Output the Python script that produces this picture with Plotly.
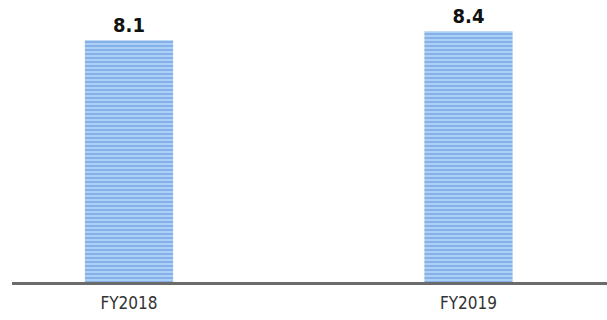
import plotly.graph_objects as go

categories = ["FY2018", "FY2019"]
values = [8.1, 8.4]
labels = ["8.1", "8.4"]

FONT = "DejaVu Sans Condensed, Roboto Condensed, Roboto, sans-serif"

fig = go.Figure(go.Bar(
    x=categories, y=values, text=labels, textposition="outside",
    cliponaxis=False, width=0.26,
    marker=dict(color="#a9cdf5", line=dict(width=0),
                pattern=dict(shape="-", fgcolor="#6093d6", bgcolor="#abcff6",
                             size=4, solidity=0.5, fillmode="overlay")),
    textfont=dict(family=FONT, size=20, color="#111111", weight="bold"),
))
fig.update_layout(
    width=607, height=320, margin=dict(l=12, r=0, t=0, b=38),
    paper_bgcolor="white", plot_bgcolor="white", showlegend=False,
    font=dict(family=FONT),
)
fig.update_xaxes(range=[-0.3446, 1.408], showline=True, linecolor="#6b6b6b", linewidth=3,
                 showgrid=False, ticks="", ticklabelstandoff=4,
                 tickfont=dict(size=17, color="#333333"))
fig.update_yaxes(range=[0, 9.45], visible=False, showgrid=False)
fig.write_html("out.html")
